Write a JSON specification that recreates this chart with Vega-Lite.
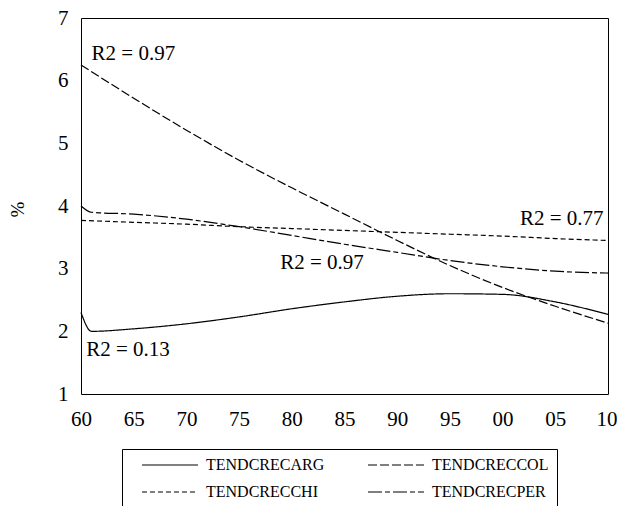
{
  "$schema": "https://vega.github.io/schema/vega-lite/v6.json",
  "width": 527,
  "height": 376,
  "autosize": {"type": "none"},
  "padding": {"left": 81, "top": 18, "right": 9, "bottom": 112},
  "background": "white",
  "config": {
    "view": {"stroke": "black", "strokeWidth": 1},
    "font": "Liberation Serif"
  },
  "datasets": {
    "series": [
      {"year": 1960, "series": "TENDCRECARG", "value": 2.3},
      {"year": 1961, "series": "TENDCRECARG", "value": 2.0},
      {"year": 1965, "series": "TENDCRECARG", "value": 2.04},
      {"year": 1970, "series": "TENDCRECARG", "value": 2.12},
      {"year": 1975, "series": "TENDCRECARG", "value": 2.23},
      {"year": 1980, "series": "TENDCRECARG", "value": 2.36},
      {"year": 1985, "series": "TENDCRECARG", "value": 2.47},
      {"year": 1990, "series": "TENDCRECARG", "value": 2.56},
      {"year": 1995, "series": "TENDCRECARG", "value": 2.6},
      {"year": 2000, "series": "TENDCRECARG", "value": 2.59},
      {"year": 2005, "series": "TENDCRECARG", "value": 2.47},
      {"year": 2010, "series": "TENDCRECARG", "value": 2.27},
      {"year": 1960, "series": "TENDCRECCOL", "value": 6.25},
      {"year": 1965, "series": "TENDCRECCOL", "value": 5.72},
      {"year": 1970, "series": "TENDCRECCOL", "value": 5.21},
      {"year": 1975, "series": "TENDCRECCOL", "value": 4.73},
      {"year": 1980, "series": "TENDCRECCOL", "value": 4.29},
      {"year": 1985, "series": "TENDCRECCOL", "value": 3.87},
      {"year": 1990, "series": "TENDCRECCOL", "value": 3.45},
      {"year": 1995, "series": "TENDCRECCOL", "value": 3.05},
      {"year": 2000, "series": "TENDCRECCOL", "value": 2.7},
      {"year": 2005, "series": "TENDCRECCOL", "value": 2.4},
      {"year": 2010, "series": "TENDCRECCOL", "value": 2.13},
      {"year": 1960, "series": "TENDCRECCHI", "value": 3.77},
      {"year": 1965, "series": "TENDCRECCHI", "value": 3.74},
      {"year": 1970, "series": "TENDCRECCHI", "value": 3.71},
      {"year": 1975, "series": "TENDCRECCHI", "value": 3.67},
      {"year": 1980, "series": "TENDCRECCHI", "value": 3.64},
      {"year": 1985, "series": "TENDCRECCHI", "value": 3.61},
      {"year": 1990, "series": "TENDCRECCHI", "value": 3.58},
      {"year": 1995, "series": "TENDCRECCHI", "value": 3.55},
      {"year": 2000, "series": "TENDCRECCHI", "value": 3.52},
      {"year": 2005, "series": "TENDCRECCHI", "value": 3.48},
      {"year": 2010, "series": "TENDCRECCHI", "value": 3.45},
      {"year": 1960, "series": "TENDCRECPER", "value": 4.0},
      {"year": 1961, "series": "TENDCRECPER", "value": 3.9},
      {"year": 1965, "series": "TENDCRECPER", "value": 3.87},
      {"year": 1970, "series": "TENDCRECPER", "value": 3.79},
      {"year": 1975, "series": "TENDCRECPER", "value": 3.67},
      {"year": 1980, "series": "TENDCRECPER", "value": 3.53},
      {"year": 1985, "series": "TENDCRECPER", "value": 3.39},
      {"year": 1990, "series": "TENDCRECPER", "value": 3.26},
      {"year": 1995, "series": "TENDCRECPER", "value": 3.13},
      {"year": 2000, "series": "TENDCRECPER", "value": 3.03},
      {"year": 2005, "series": "TENDCRECPER", "value": 2.96},
      {"year": 2010, "series": "TENDCRECPER", "value": 2.93}
    ],
    "labels": [
      {"year": 1961.0, "value": 6.33, "label": "R2 = 0.97"},
      {"year": 2001.65, "value": 3.70, "label": "R2 = 0.77"},
      {"year": 1978.9, "value": 3.0, "label": "R2 = 0.97"},
      {"year": 1960.5, "value": 1.6, "label": "R2 = 0.13"}
    ],
    "xticks": [
      {"year": 1960}, {"year": 1961}, {"year": 1962}, {"year": 1963}, {"year": 1964},
      {"year": 1965}, {"year": 1966}, {"year": 1967}, {"year": 1968}, {"year": 1969},
      {"year": 1970}, {"year": 1971}, {"year": 1972}, {"year": 1973}, {"year": 1974},
      {"year": 1975}, {"year": 1976}, {"year": 1977}, {"year": 1978}, {"year": 1979},
      {"year": 1980}, {"year": 1981}, {"year": 1982}, {"year": 1983}, {"year": 1984},
      {"year": 1985}, {"year": 1986}, {"year": 1987}, {"year": 1988}, {"year": 1989},
      {"year": 1990}, {"year": 1991}, {"year": 1992}, {"year": 1993}, {"year": 1994},
      {"year": 1995}, {"year": 1996}, {"year": 1997}, {"year": 1998}, {"year": 1999},
      {"year": 2000}, {"year": 2001}, {"year": 2002}, {"year": 2003}, {"year": 2004},
      {"year": 2005}, {"year": 2006}, {"year": 2007}, {"year": 2008}, {"year": 2009},
      {"year": 2010}
    ],
    "yticks": [
      {"value": 1}, {"value": 2}, {"value": 3}, {"value": 4}, {"value": 5}, {"value": 6}, {"value": 7}
    ]
  },
  "encoding": {
    "x": {
      "field": "year",
      "type": "quantitative",
      "scale": {"domain": [1960, 2010], "nice": false, "zero": false},
      "axis": {
        "title": null,
        "grid": false,
        "ticks": false,
        "domain": false,
        "format": "d",
        "values": [1960, 1965, 1970, 1975, 1980, 1985, 1990, 1995, 2000, 2005, 2010],
        "labelExpr": "substring(datum.label, 2)",
        "labelAlign": {"condition": {"test": "datum.value === 2010", "value": "right"}, "value": "center"},
        "labelOffset": {"condition": {"test": "datum.value === 2010", "value": 9}, "value": 0},
        "labelOverlap": false,
        "labelFlush": false,
        "labelFont": "Liberation Serif",
        "labelFontSize": 21,
        "labelColor": "black",
        "labelPadding": 14
      }
    },
    "y": {
      "field": "value",
      "type": "quantitative",
      "scale": {"domain": [1, 7], "nice": false, "zero": false},
      "axis": {
        "title": "%",
        "grid": false,
        "ticks": false,
        "domain": false,
        "values": [1, 2, 3, 4, 5, 6, 7],
        "labelFont": "Liberation Serif",
        "labelFontSize": 21,
        "labelColor": "black",
        "labelPadding": 13,
        "titleFont": "Liberation Serif",
        "titleFontSize": 19,
        "titleFontWeight": "normal",
        "titleColor": "black",
        "titleAngle": -90,
        "titleX": -64,
        "titleY": 191,
        "titleAlign": "center",
        "titleBaseline": "middle"
      }
    }
  },
  "layer": [
    {
      "data": {"name": "xticks"},
      "transform": [{"filter": "datum.year % 5 === 0"}],
      "mark": {"type": "point", "shape": "M0,0V2", "size": 121, "filled": false, "stroke": "black", "strokeWidth": 1, "opacity": 1},
      "encoding": {"y": {"datum": 1, "type": "quantitative"}}
    },
    {
      "data": {"name": "xticks"},
      "transform": [{"filter": "datum.year % 5 !== 0"}],
      "mark": {"type": "point", "shape": "M0,0V2", "size": 36, "filled": false, "stroke": "black", "strokeWidth": 1, "opacity": 1},
      "encoding": {"y": {"datum": 1, "type": "quantitative"}}
    },
    {
      "data": {"name": "yticks"},
      "mark": {"type": "point", "shape": "M0,0H-2", "size": 64, "filled": false, "stroke": "black", "strokeWidth": 1, "opacity": 1},
      "encoding": {"x": {"datum": 1960, "type": "quantitative"}}
    },
    {
      "data": {"name": "series"},
      "mark": {"type": "line", "color": "black", "strokeWidth": 1.2, "interpolate": "monotone"},
      "encoding": {
        "strokeDash": {
          "field": "series",
          "type": "nominal",
          "sort": null,
          "scale": {
            "domain": ["TENDCRECARG", "TENDCRECCOL", "TENDCRECCHI", "TENDCRECPER"],
            "range": [[1, 0], [9, 3], [5, 3], [14, 3, 5, 3]]
          },
          "legend": {
            "orient": "none",
            "legendX": 41,
            "legendY": 431,
            "direction": "horizontal",
            "columns": 2,
            "title": null,
            "strokeColor": "black",
            "padding": 8,
            "symbolType": "M-4.667,0H4.667",
            "symbolSize": 144,
            "symbolStrokeWidth": 1.2,
            "symbolStrokeColor": "black",
            "symbolOffset": 32,
            "labelOffset": 28,
            "labelFont": "Liberation Serif",
            "labelFontSize": 16,
            "labelColor": "black",
            "labelLimit": 300,
            "rowPadding": 11,
            "columnPadding": 31,
            "gridAlign": "all"
          }
        }
      }
    },
    {
      "data": {"name": "labels"},
      "mark": {"type": "text", "align": "left", "baseline": "alphabetic", "font": "Liberation Serif", "fontSize": 21, "color": "black"},
      "encoding": {
        "text": {"field": "label", "type": "nominal"}
      }
    }
  ]
}
